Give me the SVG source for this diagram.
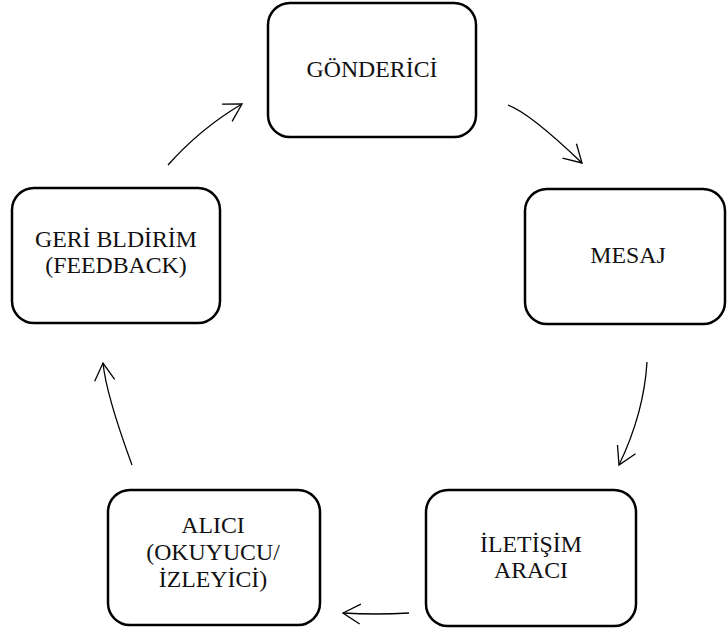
<svg xmlns="http://www.w3.org/2000/svg" width="728" height="632" viewBox="0 0 728 632">
<style>
.box{fill:#fff;stroke:#000;stroke-width:2.5}
.lbl{font-family:"Liberation Serif","Times New Roman",serif;font-size:23.8px;fill:#111;text-anchor:middle}
.con{fill:none;stroke:#000;stroke-width:1.3;marker-end:url(#arr)}
</style>
<defs>
<marker id="arr" markerUnits="userSpaceOnUse" markerWidth="40" markerHeight="40" viewBox="-20 -20 40 40" refX="0" refY="0" orient="auto" overflow="visible">
<path d="M -17.3 -10 L 0 0 L -17.3 10" fill="none" stroke="#000" stroke-width="1.3"/>
</marker>
</defs>
<rect width="728" height="632" fill="#fff"/>
<g id="connectors">
<path class="con" d="M 168 165 Q 201 128 242 104"/>
<path class="con" d="M 508 105 Q 530 113 582 163"/>
<path class="con" d="M 647 362 Q 644 413 619 465"/>
<path class="con" d="M 409 613 Q 376 615 343 613"/>
<path class="con" d="M 132 465 Q 106 394 103 363"/>
</g>
<g id="gonderici">
<rect class="box" x="268" y="3" width="208" height="134" rx="22"/>
<text class="lbl" x="372" y="77">GÖNDERİCİ</text>
</g>
<g id="mesaj">
<rect class="box" x="525" y="189" width="200" height="135" rx="22"/>
<text class="lbl" x="628" y="263">MESAJ</text>
</g>
<g id="iletisim">
<rect class="box" x="426" y="490" width="210" height="136" rx="22"/>
<text class="lbl" x="531" y="552">İLETİŞİM</text>
<text class="lbl" x="531" y="578">ARACI</text>
</g>
<g id="alici">
<rect class="box" x="108" y="490" width="212" height="135" rx="22"/>
<text class="lbl" x="213" y="533">ALICI</text>
<text class="lbl" x="213" y="560">(OKUYUCU/</text>
<text class="lbl" x="213" y="587">İZLEYİCİ)</text>
</g>
<g id="geri-bildirim">
<rect class="box" x="12" y="188" width="208" height="135" rx="22"/>
<text class="lbl" x="116" y="247">GERİ BLDİRİM</text>
<text class="lbl" x="116" y="273">(FEEDBACK)</text>
</g>
</svg>
